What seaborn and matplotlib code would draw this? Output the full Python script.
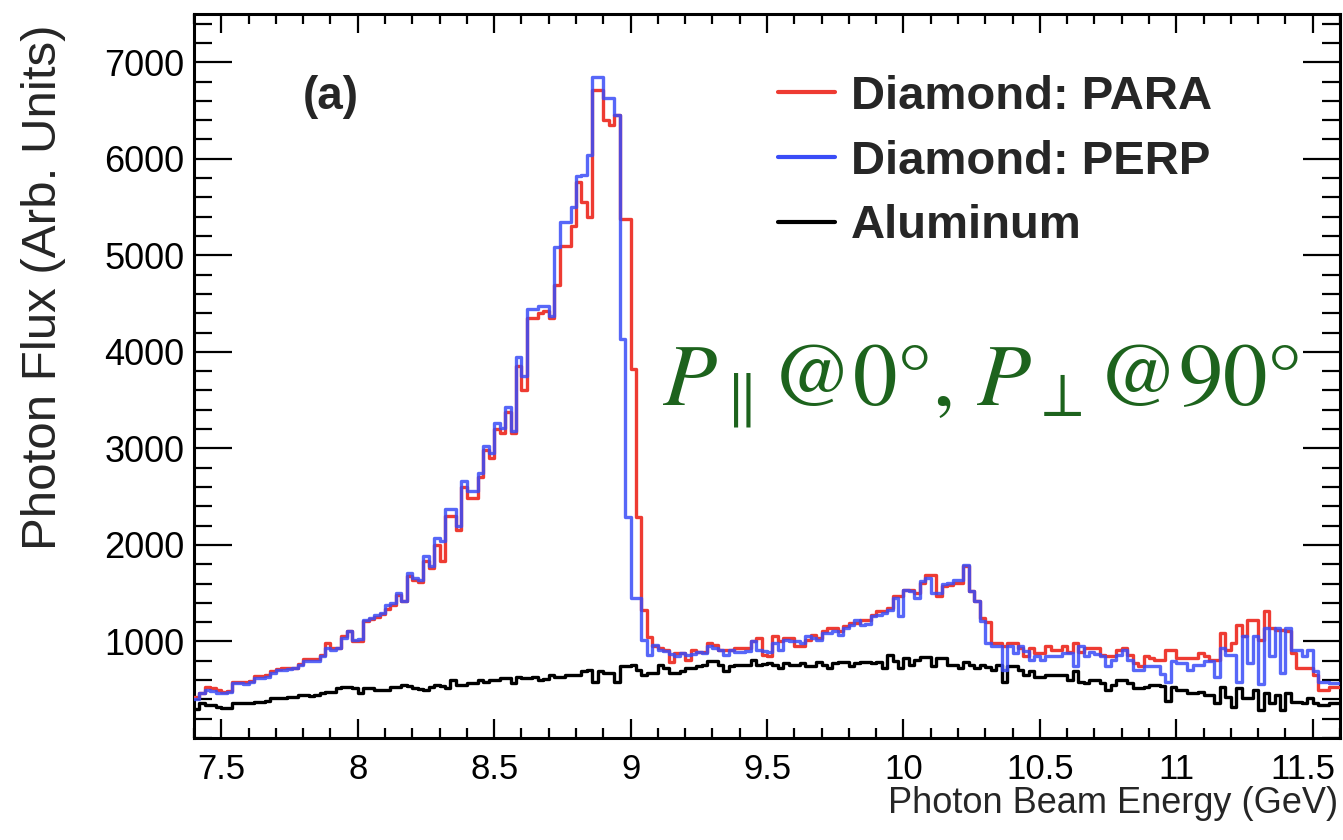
import numpy as np
import pandas as pd
import matplotlib
matplotlib.use("Agg")
import matplotlib.pyplot as plt
import matplotlib.transforms as mtransforms
import seaborn as sns
from matplotlib.lines import Line2D
from matplotlib.ticker import MultipleLocator, FuncFormatter

# ---------------- data (bin contents, 0.02 GeV bins starting at 7.4 GeV) ----------------
E_MIN = 7.4
BIN_WIDTH = 0.02

perp = [
    400, 464, 498, 490, 464, 464, 480, 568, 568, 560,
    575, 620, 620, 630, 671, 706, 706, 715, 720, 760,
    793, 793, 800, 845, 931, 915, 930, 1035, 1104, 1018,
    1030, 1225, 1240, 1277, 1290, 1381, 1400, 1502, 1415, 1710,
    1660, 1641, 1883, 1779, 2073, 2040, 2368, 2368, 2195, 2662,
    2558, 2558, 2749, 3025, 2956, 3268, 3216, 3424, 3181, 3943,
    3752, 4444, 4444, 4479, 4479, 4375, 5090, 5350, 5350, 5500,
    5820, 5830, 6040, 6850, 6850, 6630, 6630, 6450, 4130, 2290,
    1450, 1450, 1020, 860, 966, 914, 900, 870, 845, 879,
    862, 870, 896, 879, 948, 930, 914, 862, 914, 896,
    896, 900, 1000, 914, 900, 896, 983, 914, 1018, 1010,
    1000, 983, 1053, 1040, 1018, 1087, 1087, 1104, 1070, 1140,
    1173, 1225, 1173, 1180, 1260, 1277, 1290, 1329, 1450, 1260,
    1537, 1520, 1450, 1624, 1659, 1500, 1500, 1600, 1610, 1641,
    1640, 1790, 1520, 1415, 1208, 983, 948, 948, 700, 948,
    879, 948, 900, 810, 845, 810, 845, 845, 850, 879,
    879, 741, 948, 845, 896, 870, 845, 741, 810, 860,
    914, 810, 706, 700, 741, 741, 741, 660, 578, 795,
    775, 775, 706, 758, 758, 795, 795, 637, 930, 862,
    862, 578, 1053, 775, 1053, 561, 1139, 845, 1139, 671,
    1139, 914, 914, 845, 914, 689, 585, 585, 568, 568,
]

para = [
    420, 470, 530, 520, 500, 480, 490, 580, 585, 580,
    590, 640, 640, 650, 690, 715, 720, 720, 730, 770,
    820, 815, 815, 860, 985, 930, 930, 1060, 1110, 1000,
    1010, 1210, 1230, 1250, 1280, 1340, 1375, 1480, 1415, 1680,
    1640, 1620, 1830, 1760, 2000, 1830, 2300, 2300, 2150, 2600,
    2490, 2490, 2700, 2980, 2900, 3200, 3160, 3380, 3160, 3850,
    3610, 4355, 4355, 4400, 4420, 4355, 4690, 5100, 5100, 5300,
    5760, 5550, 5400, 6710, 6710, 6400, 6350, 6450, 5380, 5380,
    3820, 2290, 1330, 1050, 948, 930, 914, 792, 879, 879,
    810, 914, 896, 896, 983, 960, 914, 914, 914, 931,
    931, 931, 1000, 1040, 862, 850, 1053, 1000, 1035, 1035,
    948, 948, 1018, 1070, 1035, 1104, 1140, 1140, 1104, 1156,
    1190, 1190, 1225, 1225, 1277, 1312, 1312, 1346, 1468, 1468,
    1537, 1537, 1503, 1606, 1693, 1690, 1468, 1572, 1590, 1606,
    1606, 1780, 1520, 1415, 1243, 1200, 983, 983, 950, 983,
    983, 931, 852, 931, 879, 879, 948, 914, 914, 948,
    896, 983, 896, 931, 931, 931, 862, 845, 845, 914,
    931, 862, 775, 741, 845, 827, 810, 810, 914, 914,
    827, 827, 827, 827, 879, 850, 810, 810, 1087, 914,
    983, 1173, 1053, 1225, 1225, 1018, 1312, 1139, 1121, 1121,
    1104, 879, 723, 723, 723, 654, 498, 498, 533, 533,
]

aluminum = [
    300, 360, 343, 340, 326, 310, 308, 360, 360, 365,
    360, 377, 377, 380, 412, 412, 415, 420, 429, 446,
    446, 440, 450, 464, 481, 481, 516, 533, 530, 516,
    464, 516, 516, 500, 498, 498, 533, 533, 550, 540,
    516, 505, 498, 533, 550, 540, 516, 602, 550, 550,
    568, 568, 602, 585, 602, 602, 620, 620, 568, 637,
    620, 620, 637, 602, 610, 654, 637, 637, 654, 654,
    654, 689, 700, 585, 689, 671, 671, 580, 744, 744,
    761, 700, 654, 671, 671, 761, 727, 671, 671, 689,
    727, 727, 744, 761, 796, 796, 761, 689, 744, 761,
    761, 761, 813, 761, 770, 775, 758, 727, 775, 758,
    758, 775, 741, 741, 792, 758, 723, 775, 792, 792,
    741, 775, 792, 792, 775, 792, 723, 862, 800, 727,
    827, 758, 810, 844, 844, 741, 827, 827, 758, 760,
    727, 792, 758, 723, 758, 740, 706, 758, 585, 741,
    741, 706, 654, 689, 637, 637, 654, 654, 654, 654,
    602, 689, 585, 568, 602, 602, 568, 498, 551, 602,
    602, 568, 516, 516, 533, 551, 551, 540, 384, 533,
    498, 498, 464, 464, 481, 447, 447, 360, 533, 429,
    325, 516, 412, 412, 498, 291, 464, 360, 447, 291,
    464, 377, 377, 360, 412, 360, 343, 343, 360, 360,
]

series_names = ["Diamond: PARA", "Diamond: PERP", "Aluminum"]
series_colors = ["#ee3b32", "#3a4cf7", "#000000"]
x_major_ticks = [7.5, 8, 8.5, 9, 9.5, 10, 10.5, 11, 11.5]
y_major_ticks = [1000, 2000, 3000, 4000, 5000, 6000, 7000]
x_label = "Photon Beam Energy (GeV)"
y_label = "Photon Flux (Arb. Units)"
panel_tag = "(a)"
annotation = r"$P_{\parallel}$@0°, $P_{\perp}$@90°"

assert len(perp) == len(para) == len(aluminum)

# ---------------- build tidy frame ----------------
n_bins = len(perp)
e_max = E_MIN + BIN_WIDTH * n_bins
centers = E_MIN + BIN_WIDTH * (np.arange(n_bins) + 0.5)
df = pd.concat([
    pd.DataFrame({"energy": centers, "flux": vals, "series": name})
    for name, vals in zip(series_names, [para, perp, aluminum])
], ignore_index=True)

# ---------------- style ----------------
sns.set_theme(style="ticks")
plt.rcParams["font.family"] = ["Liberation Sans", "DejaVu Sans"]
plt.rcParams["mathtext.fontset"] = "stix"

W, H = 1343, 840
fig = plt.figure(figsize=(W / 100, H / 100), dpi=100)
fig.patch.set_facecolor("white")
ax = fig.add_axes([194 / W, 1 - 738 / H, 1146 / W, 724 / H])
ax.set_facecolor("white")

styles = {
    "Diamond: PARA": dict(alpha=1.0, zorder=3),
    "Diamond: PERP": dict(alpha=0.85, zorder=4),
    "Aluminum": dict(alpha=1.0, zorder=2),
}
for name, color in zip(series_names, series_colors):
    sub = df[df["series"] == name]
    sns.histplot(data=sub, x="energy", weights="flux", bins=n_bins,
                 binrange=(E_MIN, e_max),
                 element="step", fill=False, color=color, linewidth=2.4,
                 ax=ax, **styles[name])

ax.set_xlim(7.4, 11.6)
ax.set_ylim(0, 7500)
ax.set_xticks(x_major_ticks)
ax.xaxis.set_minor_locator(MultipleLocator(0.1))
ax.set_yticks(y_major_ticks)
ax.yaxis.set_minor_locator(MultipleLocator(200))
ax.xaxis.set_major_formatter(FuncFormatter(lambda v, p: f"{v:g}"))

ax.tick_params(which="both", direction="in", top=True, right=True,
               width=1.6, colors="black")
ax.tick_params(axis="y", which="major", length=27, pad=7, labelsize=26)
ax.tick_params(axis="y", which="minor", length=13)
ax.tick_params(axis="x", which="major", length=14, pad=11, labelsize=25)
ax.tick_params(axis="x", which="minor", length=7)
for sp in ax.spines.values():
    sp.set_linewidth(2.2)
    sp.set_color("black")

ax.set_xlabel(x_label, fontsize=26, loc="right")
ax.xaxis.set_label_coords(0.998, -0.066)
ax.set_ylabel(y_label, fontsize=35.5, loc="top")
ax.yaxis.set_label_coords(-0.112, 0.985)

ax.text(0.095, 0.885, panel_tag, transform=ax.transAxes, fontsize=33,
        fontweight="bold", ha="left", va="center")

ax.text(0.408, 0.46, annotation, transform=ax.transAxes, fontsize=64,
        color="#1d631d", family="STIXGeneral", ha="left", va="baseline")

handles = [Line2D([], [], color=c, linewidth=3) for c in series_colors]
ax.legend(handles, series_names, loc="upper left", bbox_to_anchor=(0.5096, 0.916),
          frameon=False, prop={"weight": "bold", "size": 34},
          handlelength=1.2, handletextpad=0.35, labelspacing=0.44,
          borderpad=0, borderaxespad=0)

# keep the last x tick label inside the canvas (as in the reference)
fig.canvas.draw()
last = ax.get_xticklabels()[-1]
last.set_transform(last.get_transform() +
                   mtransforms.ScaledTranslation(-10 / 100, 0, fig.dpi_scale_trans))

fig.savefig("out.png", dpi=100)
